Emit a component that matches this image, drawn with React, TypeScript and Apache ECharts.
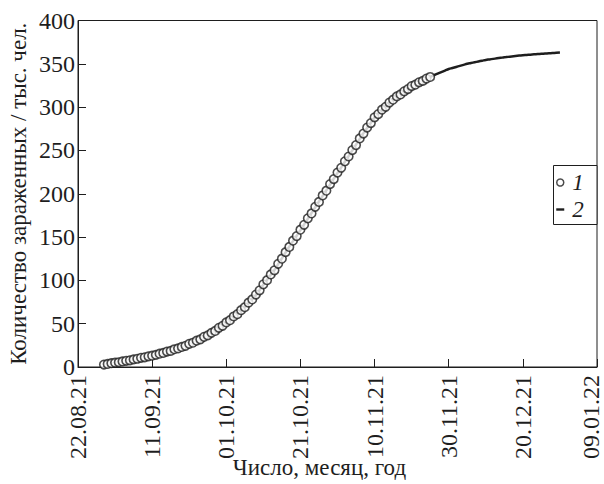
import React, { useEffect, useRef } from 'react';
import * as echarts from 'echarts';

// X axis: days counted from 22.08.21
const xTickLabels = ['22.08.21', '11.09.21', '01.10.21', '21.10.21', '10.11.21', '30.11.21', '20.12.21', '09.01.22'];
const xTickStep = 20;
const xMax = 140;

const yMax = 400;
const yStep = 50;

const seriesNames = ['1', '2'];

// Series 1: observed (daily), first point on day 7 (29.08.21)
const observedStartDay = 7;
const observedValues = [
  2.8, 3.5, 4.4, 5.0, 5.5, 6.4, 7.1, 7.7, 8.8, 9.5,
  10.6, 11.2, 12.3, 13.1, 14.0, 15.4, 16.2, 17.8, 18.6, 20.5,
  21.4, 23.2, 24.5, 26.8, 28.0, 30.4, 31.9, 34.8, 36.5, 39.4,
  41.6, 45.2, 47.5, 51.4, 54.0, 58.3, 61.0, 65.6, 69.0, 74.3,
  78.0, 83.6, 88.5, 95.4, 100.2, 106.9, 111.6, 119.1, 125.0, 132.6,
  138.6, 145.8, 151.2, 158.5, 164.1, 171.7, 177.3, 184.9, 190.6, 198.0,
  203.5, 211.2, 216.9, 224.5, 230.0, 237.5, 243.0, 250.4, 256.2, 263.9,
  269.5, 276.4, 281.6, 288.3, 292.0, 297.0, 300.4, 305.3, 308.6, 312.4,
  314.7, 318.3, 320.8, 324.3, 325.9, 328.7, 330.3, 333.0, 334.8,
];

// Series 2: model curve (daily), first point on day 7
const fittedStartDay = 7;
const fittedValues = [
  3.0, 3.6, 4.3, 5.0, 5.6, 6.3, 7.0, 7.8, 8.7, 9.6,
  10.5, 11.3, 12.1, 13.0, 14.1, 15.2, 16.3, 17.5, 18.8, 20.2,
  21.6, 23.0, 24.7, 26.4, 28.2, 30.0, 32.2, 34.4, 36.7, 39.0,
  41.9, 44.8, 47.9, 51.0, 54.4, 57.8, 61.4, 65.0, 69.4, 73.8,
  78.4, 83.0, 89.0, 95.0, 100.7, 106.4, 112.0, 118.7, 125.4, 132.2,
  139.0, 145.3, 151.6, 158.0, 164.6, 171.2, 177.8, 184.4, 191.0, 197.5,
  204.0, 210.7, 217.4, 224.0, 230.5, 237.0, 243.5, 250.0, 256.7, 263.4,
  270.0, 276.0, 282.0, 288.0, 292.4, 296.6, 300.8, 305.0, 309.0, 312.0,
  315.0, 318.0, 321.0, 324.0, 326.2, 328.4, 330.6, 332.8, 335.0, 336.8,
  338.6, 340.4, 342.2, 344.0, 345.2, 346.4, 347.6, 348.8, 350.0, 350.9,
  351.8, 352.7, 353.6, 354.5, 355.1, 355.7, 356.3, 356.9, 357.5, 358.0,
  358.5, 359.0, 359.5, 360.0, 360.3, 360.6, 360.9, 361.2, 361.5, 361.8,
  362.1, 362.4, 362.7, 363.0,
];

const FONT = "'Liberation Serif', 'DejaVu Serif', serif";
const INK = '#1e1e1e';

export default function App() {
  const ref = useRef<HTMLDivElement>(null);

  useEffect(() => {
    if (!ref.current) return;
    const chart = echarts.init(ref.current, undefined, { renderer: 'svg' });

    const observedData = observedValues.map((v, i) => [observedStartDay + i, v]);
    const fittedData = fittedValues.map((v, i) => [fittedStartDay + i, v]);
    const lastIdx = xTickLabels.length - 1;

    chart.setOption({
      animation: false,
      backgroundColor: '#ffffff',
      grid: {
        left: 78,
        right: 7,
        top: 20.5,
        bottom: 117,
        containLabel: false,
        outerBoundsMode: 'none',
        show: true,
        borderColor: INK,
        borderWidth: 1,
        backgroundColor: 'transparent',
      },
      graphic: [
        {
          type: 'rect',
          shape: { x: 553.5, y: 165.5, width: 43.5, height: 59 },
          style: { fill: '#ffffff', stroke: INK, lineWidth: 1 },
          z: 5,
        },
      ],
      legend: {
        orient: 'vertical',
        left: 553,
        top: 165,
        padding: [6, 4, 6, 3],
        itemGap: 4,
        itemWidth: 8,
        itemHeight: 7,
        symbolKeepAspect: true,
        z: 10,
        textStyle: {
          fontFamily: FONT,
          fontSize: 23,
          fontStyle: 'italic',
          color: INK,
          padding: [0, 0, 0, 3],
        },
        data: [
          {
            name: seriesNames[0],
            icon: 'circle',
            itemStyle: { color: '#ffffff', borderColor: INK, borderWidth: 1.5 },
          },
          {
            name: seriesNames[1],
            icon: 'path://M0,0H10V3H0Z',
            itemStyle: { color: INK, borderWidth: 0 },
          },
        ],
      },
      xAxis: {
        type: 'value',
        min: 0,
        max: xMax,
        interval: xTickStep,
        name: 'Число, месяц, год',
        nameLocation: 'middle',
        nameGap: 89,
        nameMoveOverlap: false,
        nameTextStyle: {
          fontFamily: FONT,
          fontSize: 23,
          color: INK,
          padding: [0, 36, 0, 0],
        },
        axisLine: { lineStyle: { color: INK, width: 1 } },
        axisTick: { inside: true, length: 8, lineStyle: { color: INK, width: 1 } },
        splitLine: { show: false },
        axisLabel: {
          rotate: 90,
          margin: 8,
          fontFamily: FONT,
          fontSize: 24,
          color: INK,
          formatter: (v: number) => {
            const i = Math.round(v / xTickStep);
            const s = xTickLabels[i] ?? '';
            return i === lastIdx ? `{last|${s}}` : s;
          },
          rich: {
            last: {
              fontFamily: FONT,
              fontSize: 24,
              color: INK,
              padding: [0, 0, 12, 0],
            },
          },
        },
      },
      yAxis: {
        type: 'value',
        min: 0,
        max: yMax,
        interval: yStep,
        name: 'Количество зараженных / тыс. чел.',
        nameLocation: 'middle',
        nameGap: 48,
        nameMoveOverlap: false,
        nameTextStyle: {
          fontFamily: FONT,
          fontSize: 23,
          color: INK,
        },
        axisLine: { show: true, lineStyle: { color: INK, width: 1 } },
        axisTick: { show: true, inside: true, length: 8, lineStyle: { color: INK, width: 1 } },
        splitLine: { show: false },
        axisLabel: {
          margin: 3,
          fontFamily: FONT,
          fontSize: 24,
          color: INK,
        },
      },
      series: [
        {
          name: seriesNames[1],
          type: 'line',
          data: fittedData,
          showSymbol: false,
          smooth: true,
          z: 2,
          lineStyle: { color: INK, width: 2.5 },
          itemStyle: { color: INK },
        },
        {
          name: seriesNames[0],
          type: 'scatter',
          data: observedData,
          symbol: 'circle',
          symbolSize: 8.5,
          z: 3,
          itemStyle: { color: '#ffffff', borderColor: INK, borderWidth: 1.6 },
        },
      ],
    });

    return () => chart.dispose();
  }, []);

  return (
    <div
      ref={ref}
      style={{ position: 'fixed', left: 0, top: 0, width: 604, height: 484, background: '#fff' }}
    />
  );
}
